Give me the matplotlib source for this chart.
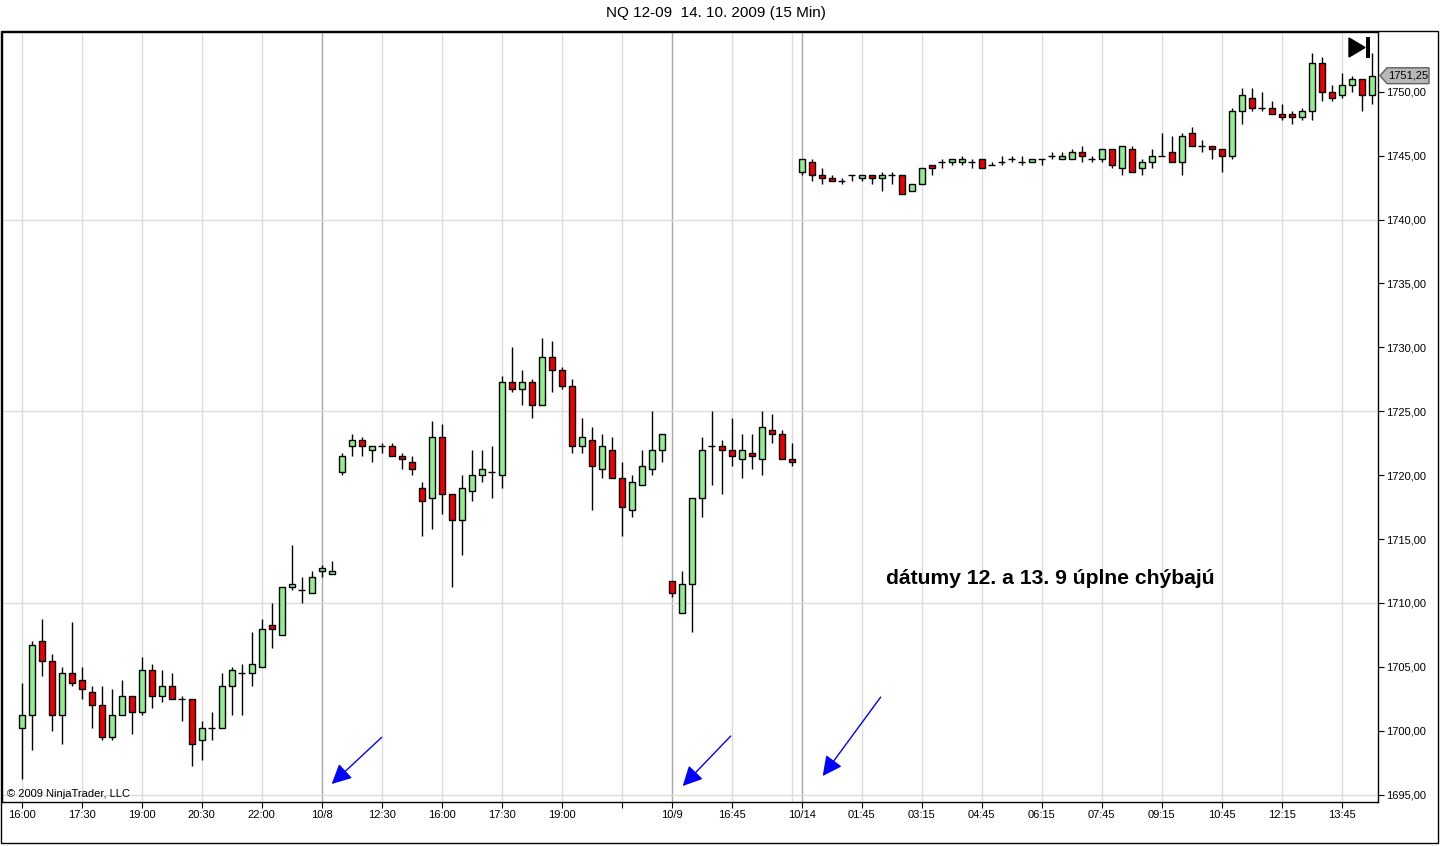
import matplotlib
matplotlib.use("Agg")
import matplotlib.pyplot as plt
from matplotlib.patches import Polygon, Rectangle
from matplotlib.transforms import blended_transform_factory

plt.rcParams['font.family'] = ['Liberation Sans', 'DejaVu Sans']

# NQ 12-09, 15 min bars (open / high / low / close)
opens = [1700.25, 1701.25, 1707, 1705.5, 1701.25, 1704.5, 1704, 1703, 1702, 1699.5,
         1701.25, 1702.75, 1701.5, 1704.75, 1702.75, 1703.5, 1702.5, 1702.5, 1699.25, 1700.25,
         1700.25, 1703.5, 1704.5, 1704.5, 1705, 1708.25, 1707.5, 1711.25, 1711, 1710.75,
         1712.5, 1712.25, 1720.25, 1722.25, 1722.75, 1722, 1722.25, 1722.25, 1721.5, 1721,
         1719, 1718.25, 1723, 1718.5, 1716.5, 1718.75, 1720, 1720.25, 1720, 1727.25,
         1726.75, 1727.25, 1725.5, 1729.25, 1728.25, 1727, 1722.25, 1722.75, 1720.5, 1722,
         1719.75, 1717.25, 1719.25, 1720.5, 1722, 1711.75, 1709.25, 1711.5, 1718.25, 1722.25,
         1722.25, 1722, 1721.25, 1721.75, 1721.25, 1723.5, 1723.25, 1721.25, 1743.75, 1744.5,
         1743.5, 1743.25, 1743, 1743.5, 1743.25, 1743.5, 1743.25, 1743.5, 1743.5, 1742.25,
         1742.75, 1744.25, 1744.5, 1744.5, 1744.5, 1744.5, 1744.75, 1744.25, 1744.5, 1744.75,
         1744.5, 1744.5, 1744.75, 1745, 1744.75, 1744.75, 1745.25, 1744.75, 1744.75, 1745.5,
         1744, 1745.5, 1744, 1744.5, 1745, 1745.25, 1744.5, 1746.75, 1745.75, 1745.75,
         1745.5, 1745, 1748.5, 1749.5, 1748.75, 1748.75, 1748.25, 1748.25, 1748, 1748.5,
         1752.25, 1750, 1749.75, 1750.5, 1751, 1749.75]
highs = [1703.75, 1707, 1708.75, 1706, 1705, 1708.5, 1705, 1703.5, 1703.5, 1703.25,
         1704, 1702.75, 1705.75, 1705.25, 1704.75, 1704.5, 1702.75, 1702.5, 1700.75, 1701.5,
         1704.5, 1705, 1705.25, 1707.75, 1708.75, 1710, 1711.25, 1714.5, 1712, 1712.5,
         1713, 1713.25, 1721.75, 1723.25, 1723, 1722.25, 1722.5, 1722.5, 1721.75, 1721.5,
         1719.5, 1724.25, 1724, 1718.5, 1720, 1722, 1722, 1722.25, 1727.75, 1730,
         1728.25, 1727.5, 1730.75, 1730.5, 1728.5, 1727.5, 1724.5, 1723.75, 1723.25, 1723,
         1721, 1720, 1722, 1725, 1723.25, 1711.75, 1712.5, 1718.25, 1723, 1725,
         1722.75, 1724.5, 1723.25, 1723.25, 1725, 1724.75, 1723.5, 1722.5, 1744.75, 1744.75,
         1744, 1743.5, 1743.25, 1743.5, 1743.5, 1743.5, 1743.75, 1743.75, 1743.5, 1742.75,
         1744, 1744.25, 1744.75, 1744.75, 1745, 1744.75, 1744.75, 1744.5, 1745, 1745,
         1745, 1744.75, 1744.75, 1745.25, 1745.25, 1745.5, 1745.75, 1745, 1745.5, 1745.5,
         1745.75, 1745.75, 1744.75, 1745.5, 1746.75, 1746.5, 1746.75, 1747.25, 1746.25, 1745.75,
         1745.5, 1748.75, 1750.25, 1750.25, 1750, 1749.25, 1749, 1748.5, 1748.75, 1753,
         1752.75, 1750.5, 1751.5, 1751.25, 1751, 1753]
lows = [1696.25, 1698.5, 1704.25, 1700, 1699, 1703.5, 1702.5, 1700.25, 1699.25, 1699.25,
        1701.25, 1699.75, 1701.25, 1701.75, 1702.25, 1702.5, 1700.75, 1697.25, 1697.75, 1699.25,
        1700.25, 1701.25, 1701.25, 1703.5, 1705, 1706.5, 1707.5, 1711, 1710, 1710.75,
        1712, 1712.25, 1720, 1721.5, 1721.5, 1721, 1721.75, 1721.5, 1720.5, 1720,
        1715.25, 1715.75, 1717, 1711.25, 1713.75, 1718, 1719.5, 1718.25, 1719, 1726.5,
        1725.5, 1724.5, 1725.5, 1726.5, 1726.75, 1721.75, 1721.75, 1717.25, 1719.75, 1719.75,
        1715.25, 1716.75, 1719.25, 1720, 1721, 1710.5, 1709.25, 1707.75, 1716.75, 1719.25,
        1718.5, 1720.75, 1719.75, 1720.5, 1720, 1722.5, 1721.25, 1720.75, 1743.5, 1743,
        1742.75, 1743, 1742.75, 1743, 1743, 1742.75, 1742.25, 1742.75, 1742, 1742.25,
        1742.75, 1743.5, 1744, 1744.25, 1744.25, 1744, 1744, 1744.25, 1744.25, 1744.5,
        1744.25, 1744.5, 1744.25, 1744.75, 1744.75, 1744.75, 1744.5, 1744.5, 1744.5, 1744,
        1743.5, 1743.75, 1743.5, 1744, 1745, 1744.5, 1743.5, 1745.75, 1745.25, 1744.75,
        1743.75, 1744.75, 1747.5, 1748.5, 1748.5, 1748.25, 1747.75, 1747.5, 1747.75, 1747.75,
        1749.25, 1749.25, 1749.5, 1750, 1748.5, 1749]
closes = [1701.25, 1706.75, 1705.5, 1701.25, 1704.5, 1703.75, 1703.25, 1702, 1699.5, 1701.25,
          1702.75, 1701.5, 1704.75, 1702.75, 1703.5, 1702.5, 1702.5, 1699, 1700.25, 1700.25,
          1703.5, 1704.75, 1704.5, 1705.25, 1708, 1708, 1711.25, 1711.5, 1711, 1712,
          1712.75, 1712.5, 1721.5, 1722.75, 1722.25, 1722.25, 1722.25, 1721.5, 1721.25, 1720.5,
          1718, 1723, 1718.5, 1716.5, 1719, 1720, 1720.5, 1720.25, 1727.25, 1726.75,
          1727.25, 1725.5, 1729.25, 1728.25, 1727, 1722.25, 1723, 1720.75, 1722.25, 1719.75,
          1717.5, 1719.5, 1720.75, 1722, 1723.25, 1710.75, 1711.5, 1718.25, 1722, 1722.25,
          1722, 1721.5, 1722, 1721.5, 1723.75, 1723.25, 1721.25, 1721, 1744.75, 1743.5,
          1743.25, 1743, 1743, 1743.5, 1743.5, 1743.25, 1743.5, 1743.5, 1742, 1742.75,
          1744, 1744, 1744.5, 1744.75, 1744.75, 1744.5, 1744, 1744.25, 1744.5, 1744.75,
          1744.5, 1744.75, 1744.75, 1745, 1745, 1745.25, 1745, 1744.75, 1745.5, 1744.25,
          1745.75, 1743.75, 1744.5, 1745, 1745, 1744.5, 1746.5, 1745.75, 1745.75, 1745.5,
          1745, 1748.5, 1749.75, 1748.75, 1748.75, 1748.25, 1748, 1748, 1748.5, 1752.25,
          1750, 1749.5, 1750.5, 1751, 1749.75, 1751.25]

tick_pos = [0, 6, 12, 18, 24, 30, 36, 42, 48, 54, 60, 65, 71, 78,
            84, 90, 96, 102, 108, 114, 120, 126, 132]
tick_labels = ["16:00", "17:30", "19:00", "20:30", "22:00", "10/8", "12:30", "16:00",
               "17:30", "19:00", "", "10/9", "16:45", "10/14", "01:45", "03:15",
               "04:45", "06:15", "07:45", "09:15", "10:45", "12:15", "13:45"]
grid_pos = [0, 6, 12, 18, 24, 36, 42, 48, 54, 60, 71, 77, 84, 90, 96, 102,
            108, 114, 120, 126, 132]
session_starts = [30, 65, 78]
price_ticks = list(range(1695, 1751, 5))
price_grid = [1695, 1710, 1725, 1740]
last_price = closes[-1]

up_color = "#90EE90"
down_color = "#EE0000"

fig = plt.figure(figsize=(14.4, 8.46), dpi=100)
ax = fig.add_axes([2 / 1440, 44 / 846, 1376 / 1440, 770 / 846])
ax.set_xlim(-1.97, 135.63)
ax.set_ylim(1694.43, 1754.67)

# mriezka a oddelovace session
for g in grid_pos:
    ax.axvline(g, color="#DCDCDC", lw=1, zorder=0)
for s in session_starts:
    ax.axvline(s, color="#A8A8A8", lw=1, zorder=0)
for p in price_grid:
    ax.axhline(p, color="#DCDCDC", lw=1, zorder=0)

# sviecky
xs = list(range(len(opens)))
ax.vlines(xs, lows, highs, color="black", lw=1, zorder=2)
up_x = [i for i in xs if closes[i] > opens[i]]
dn_x = [i for i in xs if closes[i] < opens[i]]
dj_x = [i for i in xs if closes[i] == opens[i]]
ax.bar(up_x, [closes[i] - opens[i] for i in up_x], bottom=[opens[i] for i in up_x],
       width=0.62, color=up_color, edgecolor="black", linewidth=1, zorder=3)
ax.bar(dn_x, [opens[i] - closes[i] for i in dn_x], bottom=[closes[i] for i in dn_x],
       width=0.62, color=down_color, edgecolor="black", linewidth=1, zorder=3)
ax.hlines([opens[i] for i in dj_x], [i - 0.33 for i in dj_x], [i + 0.33 for i in dj_x],
          color="black", lw=1, zorder=3)

# osi
ax.yaxis.tick_right()
ax.set_yticks(price_ticks)
ax.set_yticklabels([f"{v:.2f}".replace(".", ",") for v in price_ticks])
ax.set_xticks(tick_pos)
ax.set_xticklabels(tick_labels)
ax.tick_params(axis="y", length=4, pad=2, labelsize=8, direction="out")
ax.tick_params(axis="x", length=4, pad=2, labelsize=8, direction="out")
for sp in ax.spines.values():
    sp.set_color("black")
    sp.set_linewidth(1)

# sipky
arrows = [((31.0, 1695.84), (36.0, 1699.49)),
          ((66.1, 1695.68), (70.9, 1699.59)),
          ((80.1, 1696.46), (85.9, 1702.64))]
for tip, tail in arrows:
    ax.annotate("", xy=tip, xytext=tail,
                arrowprops=dict(arrowstyle="-|>,head_length=0.6,head_width=0.3",
                                color="#0000FF", lw=1, mutation_scale=20, shrinkA=0, shrinkB=0))

ax.text(86.4, 1711.95, "dátumy 12. a 13. 9 úplne chýbajú", fontsize=15.2,
        fontweight="bold", va="center", ha="left", zorder=5)
ax.text(0.0036, 0.004, "© 2009 NinjaTrader, LLC", transform=ax.transAxes,
        fontsize=8, va="bottom", ha="left")

# cenovka poslednej ceny
tr = blended_transform_factory(fig.transFigure, ax.transData)
h = 0.62
tag = Polygon([(1380 / 1440, last_price), (1387 / 1440, last_price + h),
               (1429 / 1440, last_price + h), (1429 / 1440, last_price - h),
               (1387 / 1440, last_price - h)],
              closed=True, facecolor="#B8B8B8", edgecolor="#606060", lw=1,
              transform=tr, clip_on=False, zorder=6)
ax.add_patch(tag)
ax.text(1408 / 1440, last_price, f"{last_price:.2f}".replace(".", ","), transform=tr,
        fontsize=8, ha="center", va="center", clip_on=False, zorder=7)

# ikona |> vpravo hore
fig.add_artist(Polygon([(1349 / 1440, 1 - 38 / 846), (1349 / 1440, 1 - 57 / 846),
                        (1365 / 1440, 1 - 47.5 / 846)], closed=True,
                       facecolor="black", edgecolor="black", transform=fig.transFigure))
fig.add_artist(Rectangle((1366 / 1440, 1 - 58 / 846), 4 / 1440, 21 / 846,
                         facecolor="black", edgecolor="none", transform=fig.transFigure))

# ramik a titulok
fig.add_artist(Rectangle((1 / 1440, 3 / 846), 1437 / 1440, 812 / 846, fill=False,
                         edgecolor="black", lw=1, transform=fig.transFigure))
fig.text(716 / 1440, 1 - 13 / 846, "NQ 12-09  14. 10. 2009 (15 Min)",
         ha="center", va="center", fontsize=11)

fig.savefig("out.png", dpi=100)
